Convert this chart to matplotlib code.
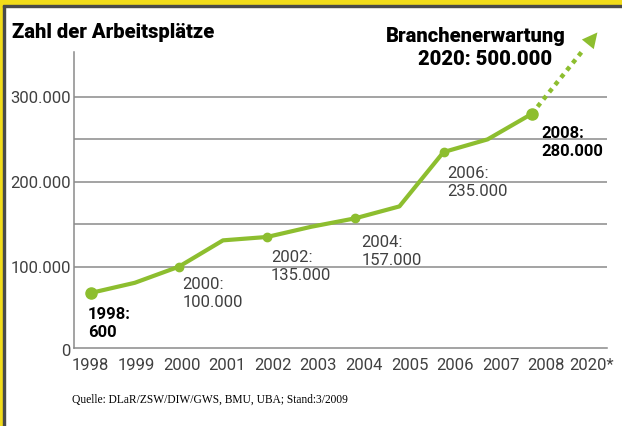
import matplotlib
matplotlib.use("Agg")
import matplotlib.pyplot as plt
from matplotlib.patches import Rectangle

# ---- data ----
years = [1998, 1999, 2000, 2001, 2002, 2003, 2004, 2005, 2006, 2007, 2008]
jobs = [69000, 81000, 100000, 131000, 135000, 147000, 157000, 171000, 235000, 250000, 280000]
tick_labels = ["1998", "1999", "2000", "2001", "2002", "2003", "2004", "2005",
               "2006", "2007", "2008", "2020*"]
y_ticks = [100000, 200000, 300000]
y_tick_labels = ["100.000", "200.000", "300.000"]
labelled_years = [1998, 2000, 2002, 2004, 2006, 2008]
label_texts = ["1998:\n600", "2000:\n100.000", "2002:\n135.000", "2004:\n157.000",
               "2006:\n235.000", "2008:\n280.000"]
bold_years = [1998, 2008]

W, H = 622, 426
fig = plt.figure(figsize=(W / 100, H / 100), dpi=100)
fig.patch.set_facecolor("white")

GREEN = "#8DBE2F"
GRID = "#8a8a8a"
TXT = "#404040"
FS = 12

def px2fig(x, y):
    return x / W, 1 - y / H

# frame (yellow strips with dark line)
fig.patches.append(Rectangle((0, 0), 3.2 / W, 1, transform=fig.transFigure, color="#F2DC1A", zorder=0))
fig.patches.append(Rectangle((3.2 / W, 0), 2 / W, 1 - 5 / H, transform=fig.transFigure, color="#4a4a4a", zorder=0))
fig.patches.append(Rectangle((0, 1 - 5 / H), 1, 5 / H, transform=fig.transFigure, color="#F2DC1A", zorder=0))
fig.patches.append(Rectangle((3.2 / W, 1 - 6.6 / H), 1 - 3.2 / W, 1.6 / H, transform=fig.transFigure, color="#4a4a4a", zorder=0))

ax_l, ax_r, ax_t, ax_b = 74, 607, 51.7, 348.3
ax = fig.add_axes([ax_l / W, 1 - ax_b / H, (ax_r - ax_l) / W, (ax_b - ax_t) / H])
ax.set_facecolor("none")

xs = list(range(len(years)))
unit = 44.1  # px per year step for points
ax.set_xlim((ax_l - 90.7) / unit, (ax_r - 90.7) / unit)
ax.set_ylim(3800, 353300)

# grid
for v in [100000, 150000, 200000, 250000, 300000]:
    ax.axhline(v, color=GRID, lw=1.1, zorder=1)

for s in ["top", "right"]:
    ax.spines[s].set_visible(False)
for s in ["left", "bottom"]:
    ax.spines[s].set_color(GRID)
    ax.spines[s].set_linewidth(1.1)

light = dict(fontfamily="Roboto", fontweight="normal", color=TXT, fontsize=FS)

# ticks
tick_step = 45.55 / unit
ax.set_xticks([i * tick_step for i in range(len(tick_labels))])
ax.set_xticklabels(tick_labels, **light)
ax.set_yticks(y_ticks)
ax.set_yticklabels(y_tick_labels, **light)
ax.tick_params(axis="both", length=0)
ax.tick_params(axis="y", pad=2.0)
ax.tick_params(axis="x", pad=7)
ax.text(-0.006, 0, "0", transform=ax.get_yaxis_transform(), ha="right", va="center",
        clip_on=False, **light)

# line
ax.plot(xs, jobs, color=GREEN, lw=3.0, solid_capstyle="round", solid_joinstyle="round", zorder=3)

# markers
for yr in labelled_years:
    i = years.index(yr)
    ms = 8 if yr in bold_years else 6
    ax.plot(xs[i], jobs[i], "o", color=GREEN, ms=ms, zorder=4)

# forecast arrow (dotted)
i_last = len(years) - 1
x0, y0 = xs[i_last], jobs[i_last]
x1, y1 = x0 + 1.49, y0 + 96000
ax.plot([x0, x0 + (x1 - x0) * 0.80], [y0, y0 + (y1 - y0) * 0.80], color=GREEN, lw=3.2,
        linestyle=(0, (1.0, 1.1)), dash_capstyle="butt", zorder=3, clip_on=False)
ax.annotate("", xy=(x1, y1), xytext=(x0 + (x1 - x0) * 0.78, y0 + (y1 - y0) * 0.78),
            arrowprops=dict(arrowstyle="-|>,head_length=1.1,head_width=0.55", color=GREEN, lw=0,
                            shrinkA=0, shrinkB=0), annotation_clip=False, zorder=4)

# data labels (offsets in px: left edge, last-line baseline)
offsets = {1998: (-2.7, -44.0), 2000: (3.3, -40.3), 2002: (4.0, -43.3),
           2004: (6.0, -46.3), 2006: (3.4, -43.5), 2008: (9.2, -42.4)}
for yr, txt in zip(labelled_years, label_texts):
    i = years.index(yr)
    dx, dy = offsets[yr]
    bold = yr in bold_years
    style = dict(light)
    if bold:
        style.update(color="black", fontweight="bold")
    ax.annotate(txt, xy=(xs[i], jobs[i]), xytext=(dx * 0.72, dy * 0.72), textcoords="offset points",
                ha="left", va="baseline", linespacing=1.25, zorder=5, **style)

# titles
tstyle = dict(fontsize=14.5, fontweight="heavy", fontfamily="Roboto", color="black", va="baseline")
fig.text(*px2fig(12, 38), "Zahl der Arbeitsplätze", ha="left", **tstyle)
fig.text(*px2fig(566, 41.7), "Branchenerwartung", ha="right", **tstyle)
fig.text(*px2fig(552, 65), "2020: 500.000", ha="right", **tstyle)

# source
fig.text(*px2fig(72.5, 403), "Quelle: DLaR/ZSW/DIW/GWS, BMU, UBA; Stand:3/2009", fontsize=8.3,
         fontfamily="Liberation Serif", color="black", ha="left", va="baseline")

fig.savefig("out.png", dpi=100)
